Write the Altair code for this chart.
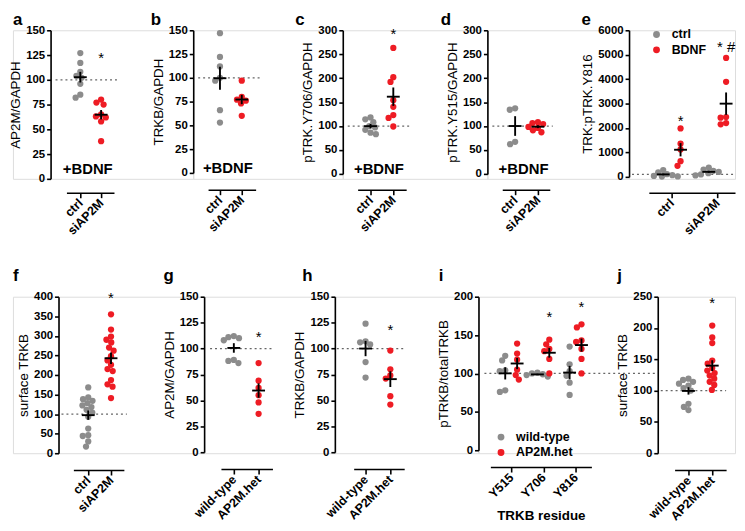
import altair as alt
import numpy as np
import pandas as pd

FONT = "Liberation Sans"
GRAY = "#8c8c8c"
RED = "#ee1c24"

# ---------------- values ----------------
a_ctrl = [127, 117, 108, 104, 102, 96, 85, 82]
a_si = [80, 77, 75, 65, 63, 62, 58, 38]
b_ctrl = [147, 122, 112, 100, 97, 66, 53]
b_si = [97, 80, 77, 76, 73, 60]
c_ctrl = [118, 114, 108, 100, 97, 92, 86, 83]
c_si = [263, 202, 192, 154, 140, 123, 117, 99]
d_ctrl = [137, 134, 67, 62]
d_si = [108, 106, 104, 98, 96, 91, 87]
e_ctrl_unstim = [280, 180, 110, 70, 40, 20, 10]
e_ctrl_bdnf = [1980, 1360, 1120, 640, 450]
e_si_unstim = [380, 300, 250, 200, 150, 100, 60]
e_si_bdnf = [4870, 3890, 2450, 2420, 2200, 2150]
f_ctrl = [168, 143, 138, 134, 128, 122, 118, 111, 104, 93, 63, 46, 44, 30, 17]
f_si = [355, 316, 298, 290, 283, 270, 262, 248, 237, 226, 215, 210, 187, 176, 170, 141]
g_wt = [112, 111, 110, 108, 89, 88, 86]
g_het = [86, 69, 62, 55, 48, 37]
h_wt = [124, 107, 106, 104, 87, 72]
h_het = [98, 80, 74, 71, 54, 46]
i_wt_y515 = [123, 117, 104, 103, 78, 76]
i_het_y515 = [139, 126, 118, 105, 98, 92]
i_wt_y706 = [101, 100, 99, 98, 96]
i_het_y706 = [144, 138, 132, 129, 119, 100]
i_wt_y816 = [135, 112, 103, 97, 88, 72]
i_het_y816 = [164, 160, 143, 141, 132, 119, 100]
j_wt = [119, 117, 114, 111, 108, 104, 100, 79, 74, 69]
j_het = [204, 185, 176, 148, 143, 136, 132, 128, 124, 119, 114, 109, 101]

cats_si = ["ctrl", "siAP2M"]
cats_gt = ["wild-type", "AP2M.het"]
cats_res = ["Y515", "Y706", "Y816"]
treat_e = ["ctrl", "BDNF"]

# ---------------- layout (pixels) ----------------
TOPS = [29, 295]
HEIGHTS = [150, 158]
LETTER_OFFSET = [-18, -7]
SPACERS = [38, 46]

PANELS = [
    dict(letter="a", row=0, ax=46, zero=179, xaxis_y=193, xa=(62, 110), ticks=(76, 97), W=144,
         ymax=150, ystep=25, ytitle="AP2M/GAPDH", xlabels=cats_si, colordom=cats_si,
         groups=[(1, "ctrl", a_ctrl, 0), (2, "siAP2M", a_si, 0)],
         stars=[(2, 0, 125, "*")], bdnf=5, dot=(5, 67), ldx=-38),
    dict(letter="b", row=0, ax=190, zero=173, xaxis_y=190, xa=(205, 253), ticks=(217, 239), W=151,
         ymax=150, ystep=25, ytitle="TRKB/GAPDH", xlabels=cats_si, colordom=cats_si,
         groups=[(1, "ctrl", b_ctrl, 0), (2, "siAP2M", b_si, 0)],
         stars=[], bdnf=0, dot=(5, 67), ldx=-43),
    dict(letter="c", row=0, ax=341, zero=174, xaxis_y=190, xa=(356, 405), ticks=(369, 392), W=146,
         ymax=300, ystep=50, ytitle="pTRK.Y706/GAPDH", xlabels=cats_si, colordom=cats_si,
         groups=[(1, "ctrl", c_ctrl, 0), (2, "siAP2M", c_si, 0)],
         stars=[(2, 0, 298, "*")], bdnf=0, dot=(5, 67), ldx=-48),
    dict(letter="d", row=0, ax=487, zero=174, xaxis_y=190, xa=(502, 550), ticks=(515, 538), W=143,
         ymax=300, ystep=50, ytitle="pTRK.Y515/GAPDH", xlabels=cats_si, colordom=cats_si,
         groups=[(1, "ctrl", d_ctrl, 0), (2, "siAP2M", d_si, 0)],
         stars=[], bdnf=0, dot=(5, 66), ldx=-47),
    dict(letter="e", row=0, ax=630, zero=177, xaxis_y=193, xa=(650, 737), ticks=(673, 719), W=107,
         ymax=6000, ystep=1000, ytitle="TRK:pTRK.Y816", xlabels=cats_si, colordom=treat_e,
         groups=[(1, "ctrl", e_ctrl_unstim, -8.5), (1, "BDNF", e_ctrl_bdnf, 9),
                 (2, "ctrl", e_si_unstim, -8.5), (2, "BDNF", e_si_bdnf, 9)],
         stars=[(1, 9, 2400, "*"), (2, 9, 5420, "* #")], bdnf=None, dot=(3, 107), ldx=-48,
         legend=(21.5, -2)),
    dict(letter="f", row=1, ax=54, zero=453, xaxis_y=470, xa=(69, 120), ticks=(84, 107), W=147,
         ymax=400, ystep=50, ytitle="surface TRKB", xlabels=cats_si, colordom=cats_si,
         groups=[(1, "ctrl", f_ctrl, 0), (2, "siAP2M", f_si, 0)],
         stars=[(2, 0, 404, "*")], bdnf=None, dot=(3, 69), ldx=-46),
    dict(letter="g", row=1, ax=201, zero=452, xaxis_y=469, xa=(218, 270), ticks=(231, 256), W=132,
         ymax=150, ystep=25, ytitle="AP2M/GAPDH", xlabels=cats_gt, colordom=cats_gt,
         groups=[(1, "wild-type", g_wt, 0), (2, "AP2M.het", g_het, 0)],
         stars=[(2, 0, 114, "*")], bdnf=None, dot=(6, 69), ldx=-41),
    dict(letter="h", row=1, ax=333, zero=452, xaxis_y=469, xa=(352, 403), ticks=(364, 389), W=145,
         ymax=150, ystep=25, ytitle="TRKB/GAPDH", xlabels=cats_gt, colordom=cats_gt,
         groups=[(1, "wild-type", h_wt, 0), (2, "AP2M.het", h_het, 0)],
         stars=[(2, 0, 121, "*")], bdnf=None, dot=(2, 70), ldx=-33),
    dict(letter="i", row=1, ax=478, zero=450, xaxis_y=467, xa=(490, 592), ticks=(511, 544, 576), W=181,
         ymax=200, ystep=50, ytitle="pTRKB/totalTRKB", xlabels=cats_res, colordom=cats_gt,
         xtitle="TRKB residue",
         groups=[(1, "wild-type", i_wt_y515, -6), (1, "AP2M.het", i_het_y515, 6),
                 (2, "wild-type", i_wt_y706, -6), (2, "AP2M.het", i_het_y706, 6),
                 (3, "wild-type", i_wt_y816, -6), (3, "AP2M.het", i_het_y816, 6)],
         stars=[(2, 6, 178, "*"), (3, 6, 190, "*")], bdnf=None, dot=(6, 181), ldx=-40,
         legend=(16.5, 135.5)),
    dict(letter="j", row=1, ax=659, zero=453, xaxis_y=470, xa=(676, 728), ticks=(690, 714), W=78,
         ymax=250, ystep=50, ytitle="surface TRKB", xlabels=cats_gt, colordom=cats_gt,
         groups=[(1, "wild-type", j_wt, 0), (2, "AP2M.het", j_het, 0)],
         stars=[(2, 0, 245, "*")], bdnf=None, dot=(3, 69), ldx=-41),
]


def swarm(vals, k, d=5.6):
    """Beeswarm offsets (px) so that dots of diameter d do not overlap."""
    order = np.argsort(vals)[::-1]
    placed = []
    offs = [0.0] * len(vals)
    for i in order:
        y = vals[i] * k
        cands = [0.0]
        for (px, py) in placed:
            dy = abs(py - y)
            if dy < d:
                dx = (d * d - dy * dy) ** 0.5
                cands += [px + dx, px - dx]
        cands.sort(key=lambda c: (abs(c), c))
        chosen = 0.0
        for c in cands:
            if all((c - px) ** 2 + (y - py) ** 2 >= d * d - 1e-6 for px, py in placed):
                chosen = c
                break
        offs[i] = chosen
        placed.append((chosen, y))
    return offs


def build(p):
    top = TOPS[p["row"]]
    H = HEIGHTS[p["row"]]
    ax = p["ax"]
    t = [v - ax for v in p["ticks"]]
    n = len(t)
    u = (t[-1] - t[0]) / (n - 1)
    xr = [p["xa"][0] - ax, p["xa"][1] - ax]
    lo = 1 - (t[0] - xr[0]) / u
    hi = n + (xr[1] - t[-1]) / u

    def xv(px):
        return lo + (px - xr[0]) / u

    yr0 = p["zero"] - top
    k = yr0 / p["ymax"]

    pts, summ = [], []
    for cat, grp, vals, off in p["groups"]:
        offs = swarm(vals, k)
        for v, o in zip(vals, offs):
            pts.append({"x": cat + (off + o) / u, "y": v, "grp": grp})
        arr = np.array(vals, dtype=float)
        m = arr.mean()
        sem = arr.std(ddof=1) / np.sqrt(len(arr))
        xc = cat + off / u
        summ.append({"xc": xc, "xl": xc - 6.5 / u, "xr": xc + 6.5 / u,
                     "mean": m, "lo": m - sem, "hi": m + sem})
    pts = pd.DataFrame(pts)
    summ = pd.DataFrame(summ)

    labels = p["xlabels"]
    expr = " : ".join(f"datum.value == {i + 1} ? '{lab}'" for i, lab in enumerate(labels)) + " : ''"

    xs = alt.Scale(domain=[lo, hi], range=xr, nice=False, zero=False)
    ys = alt.Scale(domain=[0, p["ymax"]], range=[yr0, 0], nice=False, zero=False)
    xaxis = alt.Axis(values=list(range(1, n + 1)), labelExpr=expr, title=p.get("xtitle", None),
                     offset=p["xaxis_y"] - top - H, labelAngle=-45, labelAlign="right",
                     labelBaseline="middle", labelPadding=3, tickSize=5, tickWidth=1.6,
                     domainWidth=1.6, domainColor="black", tickColor="black",
                     labelFontSize=12.5, labelFontWeight="bold", labelColor="black",
                     labelFlush=False, labelOverlap=False, labelBound=False, grid=False,
                     titleFontSize=13.5, titleFontWeight="bold", titleColor="black",
                     titlePadding=9, labelFont=FONT, titleFont=FONT)
    yaxis = alt.Axis(values=list(range(0, p["ymax"] + 1, p["ystep"])), title=p["ytitle"],
                     format="d", tickSize=4, tickWidth=1.6, domainWidth=1.6,
                     domainColor="black", tickColor="black", labelFontSize=11.5,
                     labelFontWeight="bold", labelColor="black", labelPadding=2,
                     labelFlush=False, labelOverlap=False, grid=False,
                     titleFontSize=13.5, titleFontWeight="normal", titleColor="black",
                     titlePadding=3, labelFont=FONT, titleFont=FONT)

    def X(f):
        return alt.X(f, type="quantitative", scale=xs, axis=xaxis)

    def Y(f):
        return alt.Y(f, type="quantitative", scale=ys, axis=yaxis)

    layers = []
    dot = pd.DataFrame({"x1": [xv(p["dot"][0])], "x2": [xv(p["dot"][1])], "y": [100]})
    layers.append(alt.Chart(dot).mark_rule(strokeDash=[2, 3], color="#666666", strokeWidth=1.3)
                  .encode(x=X("x1"), x2="x2", y=Y("y")))

    if "legend" in p:
        lg = alt.Legend(orient="none", legendX=p["legend"][0], legendY=p["legend"][1], title=None,
                        labelFontSize=12.5, labelFontWeight="bold", labelColor="black",
                        labelFont=FONT, symbolSize=48, symbolType="circle", rowPadding=2.5,
                        labelOffset=9, padding=0, symbolStrokeWidth=0, symbolOpacity=1)
    else:
        lg = None
    color = alt.Color("grp:N", scale=alt.Scale(domain=p["colordom"], range=[GRAY, RED]), legend=lg)
    layers.append(alt.Chart(pts).mark_circle(size=40, opacity=1)
                  .encode(x=X("x"), y=Y("y"), color=color))
    layers.append(alt.Chart(summ).mark_rule(color="black", strokeWidth=1.9)
                  .encode(x=X("xl"), x2="xr", y=Y("mean")))
    layers.append(alt.Chart(summ).mark_rule(color="black", strokeWidth=1.9)
                  .encode(x=X("xc"), y=Y("lo"), y2="hi"))
    if p["stars"]:
        st = pd.DataFrame([{"x": c + o / u, "y": v, "t": s} for c, o, v, s in p["stars"]])
        layers.append(alt.Chart(st).mark_text(fontSize=15, font=FONT, color="black",
                                              baseline="alphabetic", dy=8)
                      .encode(x=X("x"), y=Y("y"), text="t:N"))
    if p["bdnf"] is not None:
        bd = pd.DataFrame({"x": [1.5 - 3 / u], "y": [p["bdnf"]], "t": ["+BDNF"]})
        layers.append(alt.Chart(bd).mark_text(fontSize=15, fontWeight="bold", font=FONT,
                                              color="black", baseline="alphabetic")
                      .encode(x=X("x"), y=Y("y"), text="t:N"))

    return alt.layer(*layers).properties(
        width=p["W"], height=H,
        title=alt.TitleParams(text=p["letter"], anchor="start", frame="group", dx=p["ldx"],
                              offset=LETTER_OFFSET[p["row"]], fontSize=17, fontWeight="bold",
                              font=FONT, baseline="alphabetic", color="black"),
    )


def spacer(w, h):
    return alt.Chart(pd.DataFrame({"v": [0]})).mark_point(opacity=0).encode(
        x=alt.X("v:Q", axis=None), y=alt.Y("v:Q", axis=None)).properties(width=w, height=h)


row1 = alt.hconcat(spacer(SPACERS[0], HEIGHTS[0]), *[build(p) for p in PANELS if p["row"] == 0],
                   spacing=0, bounds="flush").resolve_scale(
    x="independent", y="independent", color="independent").resolve_legend(color="independent")
row2 = alt.hconcat(spacer(SPACERS[1], HEIGHTS[1]), *[build(p) for p in PANELS if p["row"] == 1],
                   spacing=0, bounds="flush").resolve_scale(
    x="independent", y="independent", color="independent").resolve_legend(color="independent")

chart = alt.vconcat(row1, row2, spacing=TOPS[1] - TOPS[0] + 3, bounds="flush", padding=0).resolve_scale(
    x="independent", y="independent", color="independent").resolve_legend(
    color="independent").configure_view(stroke=None).configure(font=FONT, background="white")

chart.save("out.html", embed_options={"renderer": "svg", "actions": False})
